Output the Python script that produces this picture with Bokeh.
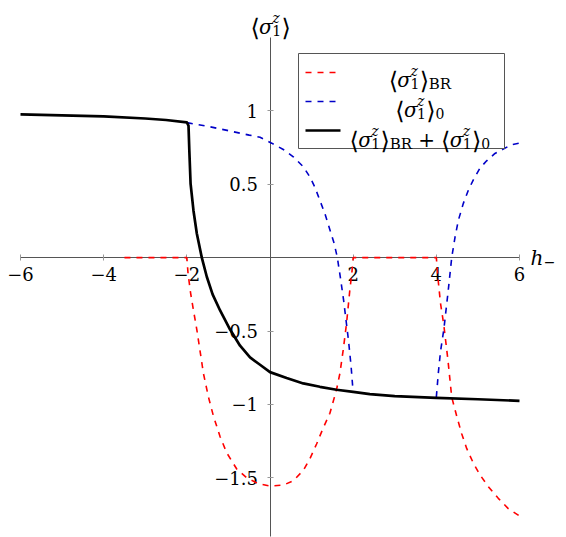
from bokeh.plotting import figure
from bokeh.models import FixedTicker, Label, BoxAnnotation, Arrow, Range1d
from bokeh.embed import file_html
from bokeh.resources import INLINE

# ---------------- data ----------------
br_x = [-3.5, -2.0, -1.97, -1.91, -1.84, -1.76, -1.68, -1.60, -1.48, -1.36, -1.20, -1.04,
        -0.80, -0.56, -0.28, 0.0, 0.32, 0.56, 0.80, 0.96, 1.12, 1.28, 1.44, 1.52, 1.60,
        1.68, 1.76, 1.84, 1.92, 1.97, 2.0,
        4.0, 4.05, 4.10, 4.18, 4.28, 4.37, 4.49, 4.61, 4.73, 4.89, 5.05, 5.25, 5.49,
        5.73, 6.0]
br_y = [0.0, 0.0, -0.11, -0.24, -0.36, -0.49, -0.64, -0.79, -0.95, -1.08, -1.22, -1.33,
        -1.44, -1.50, -1.54, -1.556, -1.55, -1.52, -1.45, -1.37, -1.27, -1.16, -1.06,
        -0.98, -0.90, -0.79, -0.63, -0.45, -0.22, -0.10, 0.0,
        0.0, -0.17, -0.31, -0.46, -0.70, -0.95, -1.08, -1.20, -1.30, -1.40, -1.48,
        -1.56, -1.64, -1.71, -1.76]

b0a_x = [-2.0, -1.5, -1.03, -0.5, -0.24, 0.04, 0.32, 0.56, 0.80, 0.96, 1.08, 1.20, 1.32,
         1.44, 1.54, 1.62, 1.70, 1.77, 1.83, 1.89, 1.95, 2.0]
b0a_y = [0.92, 0.895, 0.867, 0.835, 0.82, 0.78, 0.737, 0.687, 0.62, 0.55, 0.48, 0.39,
         0.30, 0.19, 0.10, 0.0, -0.15, -0.29, -0.43, -0.57, -0.74, -0.92]

b0b_x = [4.0, 4.05, 4.10, 4.18, 4.28, 4.37, 4.45, 4.53, 4.65, 4.77, 4.89, 5.05, 5.21,
         5.41, 5.61, 5.81, 6.0]
b0b_y = [-0.95, -0.78, -0.64, -0.49, -0.24, 0.0, 0.14, 0.255, 0.37, 0.46, 0.53, 0.61,
         0.66, 0.71, 0.74, 0.77, 0.78]

tot_x = [-6.0, -5.0, -4.0, -3.0, -2.5, -2.0, -1.96, -1.94, -1.91, -1.84, -1.76, -1.64,
         -1.52, -1.38, -1.20, -0.96, -0.72, -0.48, -0.24, 0.0, 0.40, 0.80, 1.20, 1.60,
         2.0, 2.40, 3.0, 4.0, 5.0, 6.0]
tot_y = [0.976, 0.97, 0.962, 0.948, 0.938, 0.922, 0.90, 0.73, 0.505, 0.32, 0.165, 0.0,
         -0.13, -0.25, -0.36, -0.49, -0.60, -0.68, -0.73, -0.78, -0.82, -0.857, -0.88,
         -0.90, -0.914, -0.93, -0.943, -0.955, -0.965, -0.976]

x_ticks = [-6, -4, -2, 2, 4, 6]
x_tick_labels = ["\u22126", "\u22124", "\u22122", "2", "4", "6"]
y_ticks = [1, 0.5, -0.5, -1, -1.5]
y_tick_labels = ["1", "0.5", "\u22120.5", "\u22121", "\u22121.5"]

# axis extents (where the axis lines end)
AX_X = (-6, 6)
AX_Y = (-1.9, 1.5)

# ---------------- layout ----------------
W, H = 566, 537
# pixel positions of the axis ends (calibration of the page)
PX_L, PX_R = 20, 519
PY_T, PY_B = 37, 536

def xd(px):
    return AX_X[0] + (px - PX_L) * (AX_X[1] - AX_X[0]) / (PX_R - PX_L)

def yd(py):
    return AX_Y[1] - (py - PY_T) * (AX_Y[1] - AX_Y[0]) / (PY_B - PY_T)

p = figure(width=W, height=H, x_range=Range1d(xd(0), xd(W)), y_range=Range1d(yd(H), yd(0)),
           output_backend="svg", toolbar_location=None,
           min_border_left=0, min_border_right=0, min_border_top=0, min_border_bottom=0)
p.grid.visible = False
p.outline_line_color = None
p.background_fill_color = "white"
p.border_fill_color = "white"

for ax in (p.xaxis[0], p.yaxis[0]):
    ax.fixed_location = 0
    ax.axis_line_color = "#555555"
    ax.axis_line_width = 1
    ax.major_tick_line_color = "#999999"
    ax.major_tick_in = 3
    ax.major_tick_out = 3
    ax.minor_tick_line_color = None
    ax.major_label_text_font = "DejaVu Serif"
    ax.major_label_text_font_size = "18px"
    ax.major_label_text_color = "black"
    ax.level = "underlay"

p.xaxis.bounds = AX_X
p.yaxis.bounds = AX_Y
p.xaxis.ticker = FixedTicker(ticks=x_ticks)
p.xaxis.major_label_overrides = {float(t): s for t, s in zip(x_ticks, x_tick_labels)}
p.xaxis.major_label_standoff = 6
p.yaxis.ticker = FixedTicker(ticks=y_ticks)
p.yaxis.major_label_overrides = {float(t): s for t, s in zip(y_ticks, y_tick_labels)}
p.yaxis.major_label_standoff = 9

RED, BLUE = "#ff0000", "#0000c8"
p.line(br_x, br_y, line_color=RED, line_width=1.6, line_dash="6 6")
p.line(b0a_x, b0a_y, line_color=BLUE, line_width=1.6, line_dash="6 6")
p.line(b0b_x, b0b_y, line_color=BLUE, line_width=1.6, line_dash="6 6")
p.line(tot_x, tot_y, line_color="black", line_width=2.7, line_join="round")

# ---------------- math-like text helper ----------------
F, S, BRK = 20, 14, 24
FONT = "DejaVu Serif"

def put(pieces, px, base_py, align="center"):
    total = sum(pc[4] for pc in pieces)
    x = px - total / 2 if align == "center" else px
    for text, size, style, dy, adv in pieces:
        if text:
            p.add_layout(Label(x=xd(x), y=yd(base_py + dy), text=text, text_font=FONT,
                               text_font_size=f"{size}px", text_font_style=style,
                               text_baseline="alphabetic", text_align="left",
                               text_color="black"))
        x += adv

def sigma():
    return [("\u27e8", BRK, "normal", 1, 0.36 * BRK),
            ("\u03c3", F, "italic", 0, 0.66 * F),
            ("z", S, "italic", -9, 0),
            ("1", S, "normal", 4, 0.66 * S),
            ("\u27e9", BRK, "normal", 1, 0.38 * BRK)]

BR_SUB = [("BR", S + 1, "normal", 4, 1.5 * (S + 1))]
ZERO_SUB = [("0", S, "normal", 4, 0.66 * S)]
PLUS = [("", F, "normal", 0, 6), ("+", F, "normal", 0, 0.84 * F + 6)]

# axis titles
put(sigma(), 270, 26)
put([("h", F, "italic", 0, 0.66 * F), ("\u2212", S, "normal", 4, 0.84 * S)], 530, 257,
    align="left")

# ---------------- legend ----------------
p.add_layout(BoxAnnotation(left=xd(298), right=xd(504), top=yd(53), bottom=yd(148),
                           fill_color="white", fill_alpha=1.0, line_color="#555555",
                           line_width=1, line_alpha=1.0))
rows = [(72, RED, 1.6, "6 6"), (101, BLUE, 1.6, "6 6"), (130, "black", 2.7, "solid")]
for py, col, lw, dash in rows:
    p.add_layout(Arrow(end=None, start=None, x_start=xd(305), y_start=yd(py),
                       x_end=xd(340), y_end=yd(py), line_color=col, line_width=lw,
                       line_dash=dash))

CX = 419.5
put(sigma() + BR_SUB, CX, 79)
put(sigma() + ZERO_SUB, CX, 109)
put(sigma() + BR_SUB + PLUS + sigma() + ZERO_SUB, CX, 139)

open("out.html", "w").write(file_html(p, INLINE))
